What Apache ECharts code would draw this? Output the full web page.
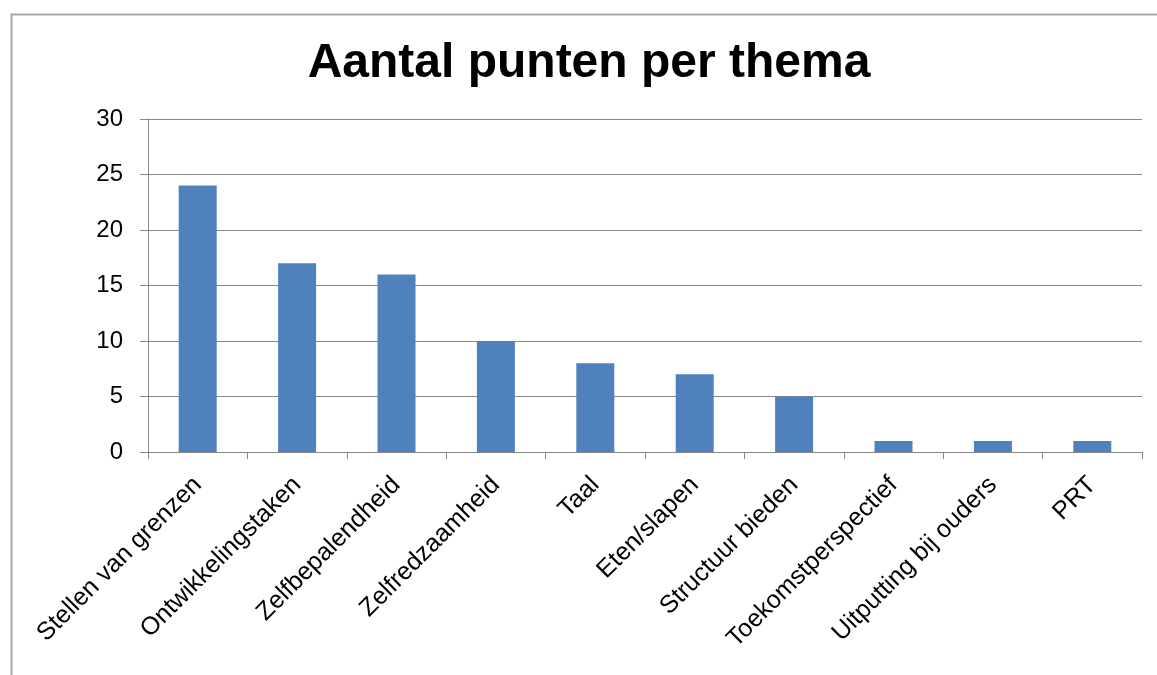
<!DOCTYPE html>
<html>
<head>
<meta charset="utf-8">
<title>Aantal punten per thema</title>
<script src="https://cdn.jsdelivr.net/npm/echarts@6/dist/echarts.min.js"></script>
<style>
  html, body { margin: 0; padding: 0; background: #fff; }
  #chart { width: 1157px; height: 675px; }
</style>
</head>
<body>
<div id="chart"></div>
<script>
const titleText = 'Aantal punten per thema'
const categories = ['Stellen van grenzen', 'Ontwikkelingstaken', 'Zelfbepalendheid', 'Zelfredzaamheid', 'Taal', 'Eten/slapen', 'Structuur bieden', 'Toekomstperspectief', 'Uitputting bij ouders', 'PRT']
const points = [24, 17, 16, 10, 8, 7, 5, 1, 1, 1]
const yTicks = { min: 0, max: 30, interval: 5 }

const chart = echarts.init(document.getElementById('chart'), null, { renderer: 'canvas' })

chart.setOption({
  animation: false,
  backgroundColor: '#fff',
  textStyle: { fontFamily: 'Liberation Sans, Arial, sans-serif' },
  title: {
    text: titleText,
    left: 584,
    textAlign: 'center',
    top: 35,
    textStyle: {
      fontSize: 48,
      fontWeight: 'bold',
      color: '#000',
      fontFamily: 'Liberation Sans, Arial, sans-serif'
    }
  },
  // outer chart border, partly cut off at right and bottom
  graphic: [{
    type: 'rect',
    left: 9,
    top: 12,
    shape: { width: 1200, height: 700 },
    style: { fill: 'none', stroke: '#a6a6a6', lineWidth: 2 },
    silent: true
  }],
  grid: {
    left: 148,
    right: 15,
    top: 119,
    bottom: 223,
    containLabel: false
  },
  xAxis: {
    type: 'category',
    data: categories,
    axisLine: { lineStyle: { color: '#888', width: 1 } },
    axisTick: { show: true, length: 7, lineStyle: { color: '#888' } },
    axisLabel: {
      rotate: 45,
      interval: 0,
      margin: 29,
      fontSize: 25,
      color: '#000'
    }
  },
  yAxis: {
    type: 'value',
    min: yTicks.min,
    max: yTicks.max,
    interval: yTicks.interval,
    axisLine: { show: true, lineStyle: { color: '#888', width: 1 } },
    axisTick: { show: true, length: 8, lineStyle: { color: '#888' } },
    axisLabel: { margin: 25, fontSize: 24, color: '#000' },
    splitLine: { show: true, lineStyle: { color: '#888', width: 1 } }
  },
  series: [{
    type: 'bar',
    data: points,
    barWidth: 38,
    itemStyle: { color: '#4f81bd' }
  }]
})
</script>
</body>
</html>
